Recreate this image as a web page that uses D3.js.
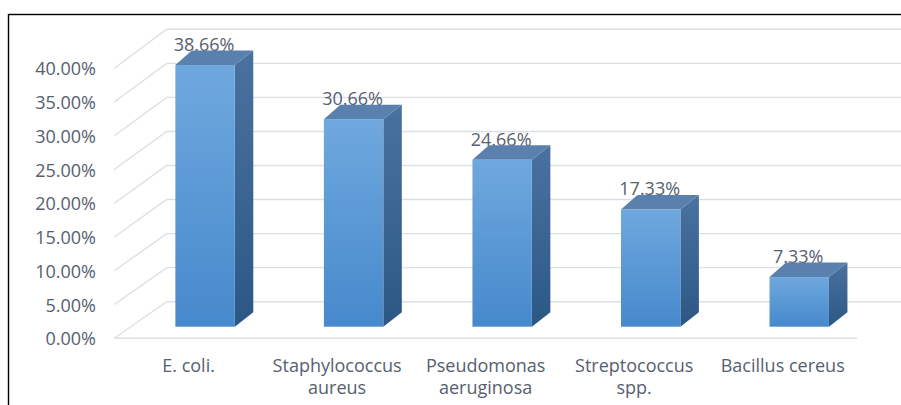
<!DOCTYPE html>
<html>
<head>
<meta charset="utf-8">
<script src="https://cdn.jsdelivr.net/npm/d3@7/dist/d3.min.js"></script>
<style>
  html, body { margin: 0; padding: 0; background: #fff; }
  svg { display: block; }
  text { font-family: "Open Sans", "Noto Sans", sans-serif; fill: #56606f; }
</style>
</head>
<body>
<svg id="chart" width="901" height="405"></svg>
<script>
// Share of isolates per organism
const categories = ["E. coli.", "Staphylococcus aureus", "Pseudomonas aeruginosa", "Streptococcus spp.", "Bacillus cereus"];
const categoryLines = [["E. coli."], ["Staphylococcus", "aureus"], ["Pseudomonas", "aeruginosa"], ["Streptococcus", "spp."], ["Bacillus cereus"]];
const values = [0.3866, 0.3066, 0.2466, 0.1733, 0.0733];
const yTicks = [0, 0.05, 0.10, 0.15, 0.20, 0.25, 0.30, 0.35, 0.40];

const svg = d3.select("#chart");
const fmt = d3.format(".2%");
const fontSize = 18;

// 3D box geometry: front edge of the floor, back wall, and bar front plane
const floorLeft = 114.3, floorRight = 857, wallDx = 52.4;
const yFront = d3.scaleLinear().domain([0, 0.4]).range([338.3, 68.3]);
const yBack  = d3.scaleLinear().domain([0, 0.4]).range([301.7, 29.3]);
const yBar   = d3.scaleLinear().domain([0, 0.4]).range([326.7, 55.9]);

const xFloor = d3.scaleBand().domain(categories).range([floorLeft, floorRight]);
const xBar = d3.scaleBand().domain(categories)
  .range([floorLeft + 16.5, floorRight + 16.5])
  .paddingInner(0.6).paddingOuter(0.3);
const depthX = 18.5, depthY = -14.5;

// gradients
const defs = svg.append("defs");
const gFront = defs.append("linearGradient").attr("id", "front").attr("x1", 0).attr("y1", 0).attr("x2", 0).attr("y2", 1);
gFront.append("stop").attr("offset", "0%").attr("stop-color", "#6fa8de");
gFront.append("stop").attr("offset", "100%").attr("stop-color", "#4689cc");
const gSide = defs.append("linearGradient").attr("id", "side").attr("x1", 0).attr("y1", 0).attr("x2", 0).attr("y2", 1);
gSide.append("stop").attr("offset", "0%").attr("stop-color", "#4a72a0");
gSide.append("stop").attr("offset", "100%").attr("stop-color", "#2c5784");

// gridlines: left wall diagonals and back wall horizontals
const grid = svg.append("g").attr("stroke", "#dcdfe4").attr("stroke-width", 1.4).attr("fill", "none");
grid.selectAll("path.grid").data(yTicks).join("path")
  .attr("class", "grid")
  .attr("d", v => `M${floorLeft},${yFront(v)}L${floorLeft + wallDx},${yBack(v)}L${920},${yBack(v)}`);
// floor front edge
grid.append("path").attr("d", `M${floorLeft},${yFront(0)}L${floorRight},${yFront(0)}`);

// y axis labels
svg.append("g").selectAll("text").data(yTicks).join("text")
  .attr("x", 96).attr("y", v => yFront(v))
  .attr("text-anchor", "end").attr("dominant-baseline", "central")
  .attr("font-size", fontSize)
  .text(d => fmt(d));

// category labels
const cat = svg.append("g").selectAll("text").data(categories).join("text")
  .attr("text-anchor", "middle").attr("font-size", fontSize)
  .attr("transform", d => `translate(${xFloor(d) + xFloor.bandwidth() / 2},0)`);
cat.selectAll("tspan").data((d, i) => categoryLines[i]).join("tspan")
  .attr("x", 0).attr("y", (d, i) => 364.5 + i * 22.2)
  .attr("dominant-baseline", "central")
  .text(d => d);

const data = categories.map((c, i) => ({ c, v: values[i] }));

// value labels (bars are drawn over them)
svg.append("g").selectAll("text").data(data).join("text")
  .attr("x", d => xBar(d.c) + xBar.bandwidth() / 2 - 1)
  .attr("y", d => yBar(d.v) - 21)
  .attr("text-anchor", "middle").attr("dominant-baseline", "central")
  .attr("font-size", fontSize)
  .text(d => fmt(d.v));

// bars
const bars = svg.append("g").selectAll("g").data(data).join("g");
bars.append("path").attr("fill", "url(#side)")
  .attr("d", d => {
    const x1 = xBar(d.c) + xBar.bandwidth(), y0 = yBar(0), y1 = yBar(d.v);
    return `M${x1},${y1}L${x1 + depthX},${y1 + depthY}L${x1 + depthX},${y0 + depthY}L${x1},${y0}Z`;
  });
bars.append("path").attr("fill", "#5a80ad")
  .attr("d", d => {
    const x0 = xBar(d.c), x1 = x0 + xBar.bandwidth(), y1 = yBar(d.v);
    return `M${x0},${y1}L${x0 + depthX - 2},${y1 + depthY}L${x1 + depthX},${y1 + depthY}L${x1},${y1}Z`;
  });
bars.append("rect").attr("fill", "url(#front)")
  .attr("x", d => xBar(d.c)).attr("width", xBar.bandwidth())
  .attr("y", d => yBar(d.v)).attr("height", d => yBar(0) - yBar(d.v));

// chart area frame
svg.append("rect").attr("x", 8.5).attr("y", 14.5).attr("width", 920).attr("height", 420)
  .attr("fill", "none").attr("stroke", "#000").attr("stroke-width", 1.4);
</script>
</body>
</html>
